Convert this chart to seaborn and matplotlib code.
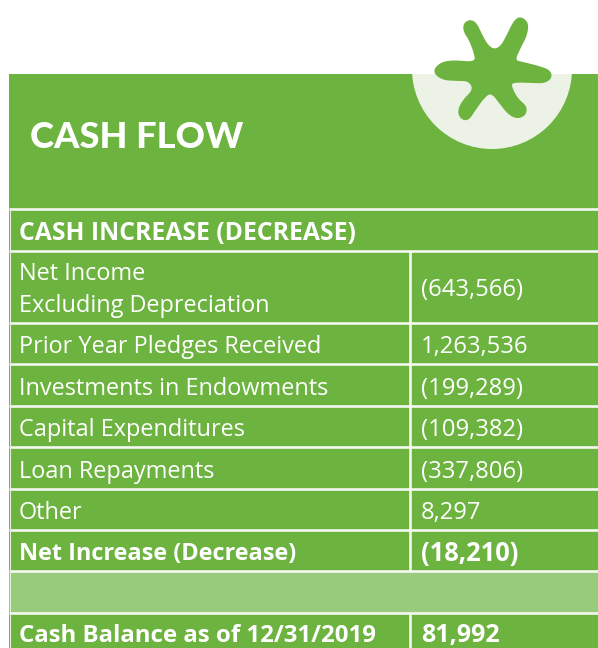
import numpy as np
import matplotlib
matplotlib.use("Agg")
import matplotlib.pyplot as plt
from matplotlib.patches import Rectangle, Circle, Polygon
import seaborn as sns

sns.set_theme(style="white")
plt.rcParams['font.family'] = ['Open Sans', 'DejaVu Sans']

title = "CASH FLOW"
header = "CASH INCREASE (DECREASE)"
labels = ["Net Income\nExcluding Depreciation", "Prior Year Pledges Received",
          "Investments in Endowments", "Capital Expenditures", "Loan Repayments", "Other"]
values = ["(643,566)", "1,263,536", "(199,289)", "(109,382)", "(337,806)", "8,297"]
net_label, net_value = "Net Increase (Decrease)", "(18,210)"
bal_label, bal_value = "Cash Balance as of 12/31/2019", "81,992"

GREEN = "#6DB33F"; LIGHT = "#99CB7C"; PALE = "#ECF3E6"
W, H = 598, 648
fig = plt.figure(figsize=(W/100, H/100), dpi=100)
ax = fig.add_axes([0, 0, 1, 1])
ax.set_xlim(0, W); ax.set_ylim(H, 0); ax.axis("off")

ax.add_patch(Rectangle((9, 74), W-9, H-74, fc=GREEN, ec="none", zorder=1))
c = Circle((492, 69), 80, fc=PALE, ec="none", zorder=2)
ax.add_patch(c)
c.set_clip_path(Rectangle((0, 74), W, 100, transform=ax.transData))

# row separators
seps = [209, 251, 323, 364, 406, 447, 489, 530, 571, 613]
ax.add_patch(Rectangle((9, 572), W-9, 41, fc=LIGHT, ec="none", zorder=1.5))
for y in seps:
    ax.plot([9, W], [y, y], color="#F4F8F0", lw=1.9, zorder=3, solid_capstyle="butt")
ax.plot([9.5, 9.5], [209, H], color="#E4EFDC", lw=0.8, zorder=3)
for a, b in [(251, 571), (613, H)]:
    ax.plot([410, 410], [a, b], color="#F4F8F0", lw=1.9, zorder=3, solid_capstyle="butt")

# logo outline, smoothed by corner cutting
pts = np.array([(190,70),(210,58),(230,68),(247,105),(264,135),(283,148),(303,137),(320,105),
    (342,60),(362,49),(386,67),(382,105),(364,140),(345,180),(365,185),(410,196),(450,209),
    (457,233),(435,250),(400,249),(336,247),(336,262),(353,295),(382,320),(377,347),(350,357),
    (323,342),(298,310),(273,278),(252,295),(227,330),(205,363),(181,357),(172,332),(188,300),
    (220,268),(205,243),(170,243),(125,240),(97,215),(120,187),(160,180),(226,186),(222,160),
    (207,120),(190,95)], float)/3 + [400, 0]
curve = pts
for _ in range(3):
    nxt = np.roll(curve, -1, 0)
    curve = np.column_stack([0.75*curve + 0.25*nxt, 0.25*curve + 0.75*nxt]).reshape(-1, 2)
ax.add_patch(Polygon(curve, closed=True, fc=GREEN, ec="none", zorder=4))

def txt(x, y, s, bold=False, size=16.9, **kw):
    ax.text(x, y, s, color="white", fontsize=size, fontweight="bold" if bold else "normal",
            va="center", ha="left", zorder=5, **kw)

ax.text(30, 138, title, color="white", fontsize=26.1, fontweight="black", family="Lato",
        va="center", ha="left", zorder=5)
txt(19, 233, header, bold=True, size=17.8)
mids = [290, 347, 389, 430, 472, 513]
for m, l, v in zip(mids, labels, values):
    txt(19, m, l, linespacing=1.42)
    txt(421, m, v, size=17.1)
txt(19, 554, net_label, bold=True, size=16.9)
txt(421, 554, net_value, bold=True, size=18.4)
txt(19, 636, bal_label, bold=True, size=17.3)
txt(421, 635.5, bal_value, bold=True, size=18)

fig.savefig("out.png", dpi=100, facecolor="white")
